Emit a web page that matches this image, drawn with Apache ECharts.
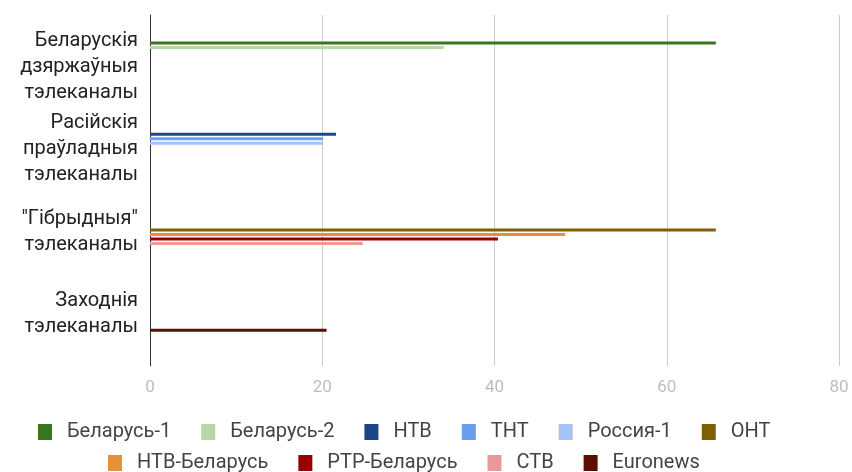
<!DOCTYPE html>
<html>
<head>
<meta charset="utf-8">
<script src="https://cdn.jsdelivr.net/npm/echarts@6/dist/echarts.min.js"></script>
<style>html,body{margin:0;padding:0;background:#fff;}#c{width:852px;height:472px;}</style>
</head>
<body>
<div id="c"></div>
<script>
const categories = ["Беларускія\nдзяржаўныя\nтэлеканалы", "Расійскія\nпраўладныя\nтэлеканалы", "\"Гібрыдныя\"\nтэлеканалы", "Заходнія\nтэлеканалы"];
const seriesNames = ["Беларусь-1", "Беларусь-2", "НТВ", "ТНТ", "Россия-1", "ОНТ", "НТВ-Беларусь", "РТР-Беларусь", "СТВ", "Euronews"];
const colors = ["#38761d", "#b6d7a8", "#1c4587", "#6d9eeb", "#a4c2f4", "#7f6000", "#e69138", "#990000", "#ea9999", "#5b0f00"];
const belarus1 = [65.7, null, null, null];
const belarus2 = [34.1, null, null, null];
const ntv = [null, 21.6, null, null];
const tnt = [null, 20.1, null, null];
const rossiya1 = [null, 20.1, null, null];
const ont = [null, null, 65.7, null];
const ntvBelarus = [null, null, 48.2, null];
const rtrBelarus = [null, null, 40.4, null];
const stv = [null, null, 24.7, null];
const euronews = [null, null, null, 20.5];
const seriesValues = [belarus1, belarus2, ntv, tnt, rossiya1, ont, ntvBelarus, rtrBelarus, stv, euronews];
const xTicks = [0, 20, 40, 60, 80];

const chart = echarts.init(document.getElementById('c'));
const font = 'Roboto, "Noto Sans", sans-serif';
const legendText = {fontSize: 20, color: '#444444', fontFamily: font, padding: [0, 0, 0, 10]};
const xMin = xTicks[0], xMax = xTicks[xTicks.length - 1];
chart.setOption({
  animation: false,
  textStyle: {fontFamily: font},
  grid: [
    {left: 150, right: 13, top: 15, height: 351},
    {left: 150, right: 13, top: 22, height: 329},
    {left: 150, right: 13, top: 26, height: 329}
  ],
  xAxis: [
    {type: 'value', gridIndex: 0, min: xMin, max: xMax, interval: xTicks[1] - xTicks[0],
     axisLine: {show: false}, axisTick: {show: false},
     splitLine: {show: true, lineStyle: {color: '#cccccc', width: 1}},
     axisLabel: {color: '#bdbdbd', fontSize: 17, margin: 13, fontFamily: font}},
    {type: 'value', gridIndex: 1, min: xMin, max: xMax, show: false},
    {type: 'value', gridIndex: 2, min: xMin, max: xMax, show: false}
  ],
  yAxis: [
    {type: 'value', gridIndex: 0, min: 0, max: 1, axisLabel: {show: false}, axisTick: {show: false},
     splitLine: {show: false}, axisLine: {show: true, lineStyle: {color: '#333333', width: 1}}},
    {type: 'category', gridIndex: 1, data: categories, inverse: true,
     axisLine: {show: false}, axisTick: {show: false}, axisLabel: {show: false}},
    {type: 'category', gridIndex: 2, data: categories, inverse: true,
     axisLine: {show: false}, axisTick: {show: false},
     axisLabel: {interval: 0, hideOverlap: false, color: '#222222', fontSize: 20, lineHeight: 26, margin: 12, fontFamily: font}}
  ],
  legend: [
    {data: seriesNames.slice(0, 6), top: 422, left: 38, padding: 0, icon: 'rect', itemWidth: 14, itemHeight: 16, itemGap: 30,
     textStyle: legendText},
    {data: seriesNames.slice(6), top: 453, left: 108, padding: 0, icon: 'rect', itemWidth: 14, itemHeight: 16, itemGap: 30,
     textStyle: legendText}
  ],
  series: seriesNames.map((n, i) => ({
    name: n, type: 'bar', xAxisIndex: 1, yAxisIndex: 1,
    data: seriesValues[i], barWidth: 3, barGap: '50%',
    itemStyle: {color: colors[i]}
  }))
});
</script>
</body>
</html>
